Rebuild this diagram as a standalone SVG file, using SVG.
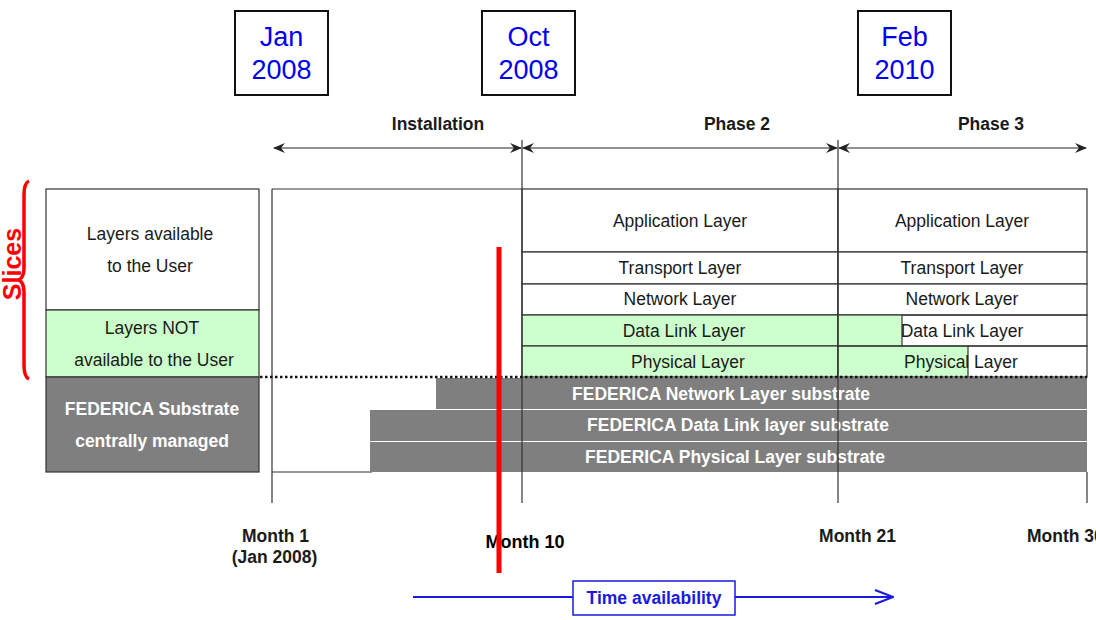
<svg xmlns="http://www.w3.org/2000/svg" width="1096" height="620" viewBox="0 0 1096 620">
<defs>
<style>
.t{font-family:"Liberation Sans",Arial,sans-serif;font-size:17.5px;fill:#1a1a1a;text-anchor:middle}
.b{font-family:"Liberation Sans",Arial,sans-serif;font-size:17.5px;font-weight:bold;fill:#1a1a1a;text-anchor:middle}
.w{font-family:"Liberation Sans",Arial,sans-serif;font-size:17.5px;font-weight:bold;fill:#fff;text-anchor:middle}
.d{font-family:"Liberation Sans",Arial,sans-serif;font-size:27px;fill:#0000ee;text-anchor:middle}
.cell{stroke:#333;stroke-width:1.2}
.gray{fill:#7f7f7f}
.ln{stroke:#333;stroke-width:1.2;fill:none}
</style>
<marker id="ah" viewBox="0 0 12 10" refX="11" refY="5" markerWidth="12" markerHeight="10" markerUnits="userSpaceOnUse" orient="auto-start-reverse">
<path d="M0,0 L12,5 L0,10 L4,5 Z" fill="#222"/>
</marker>
<marker id="bh" viewBox="0 0 20 16" refX="19" refY="8" markerWidth="20" markerHeight="16" markerUnits="userSpaceOnUse" orient="auto">
<path d="M1,1 L19,8 L1,15" fill="none" stroke="#1a1adf" stroke-width="2"/>
</marker>
</defs>
<rect width="1096" height="620" fill="#fff"/>

<g id="date-jan2008">
<rect x="235" y="11" width="93" height="84" fill="#fff" stroke="#111" stroke-width="2"/>
<text class="d" x="281.5" y="46">Jan</text>
<text class="d" x="281.5" y="79">2008</text>
</g>
<g id="date-oct2008">
<rect x="482" y="11" width="93" height="84" fill="#fff" stroke="#111" stroke-width="2"/>
<text class="d" x="528.5" y="46">Oct</text>
<text class="d" x="528.5" y="79">2008</text>
</g>
<g id="date-feb2010">
<rect x="858" y="11" width="93" height="84" fill="#fff" stroke="#111" stroke-width="2"/>
<text class="d" x="904.5" y="46">Feb</text>
<text class="d" x="904.5" y="79">2010</text>
</g>

<g id="phase-labels">
<text class="b" x="438" y="130">Installation</text>
<text class="b" x="737" y="130">Phase 2</text>
<text class="b" x="991" y="130">Phase 3</text>
</g>

<g id="legend">
<rect x="46" y="189" width="213" height="121" fill="#fff" class="cell"/>
<rect x="46" y="310" width="213" height="67" fill="#ccffcc" class="cell"/>
<rect x="46" y="377" width="213" height="95" class="gray cell"/>
<text class="t" x="150" y="240">Layers available</text>
<text class="t" x="150" y="272">to the User</text>
<text class="t" x="152" y="334">Layers NOT</text>
<text class="t" x="154" y="366">available to the User</text>
<text class="w" x="152" y="415">FEDERICA Substrate</text>
<text class="w" x="152" y="447">centrally managed</text>
</g>

<g id="frame">
<line x1="272" y1="189" x2="522" y2="189" class="ln"/>
<line x1="272" y1="189" x2="272" y2="503" class="ln"/>
<line x1="272" y1="472" x2="372" y2="472" class="ln"/>
</g>

<g id="phase2-layers">
<rect x="522" y="189" width="316" height="63" fill="#fff" class="cell"/>
<rect x="522" y="252" width="316" height="32" fill="#fff" class="cell"/>
<rect x="522" y="284" width="316" height="31" fill="#fff" class="cell"/>
<rect x="522" y="315" width="316" height="31" fill="#ccffcc" class="cell"/>
<rect x="522" y="346" width="316" height="31" fill="#ccffcc" class="cell"/>
<text class="t" x="680" y="227">Application Layer</text>
<text class="t" x="680" y="274">Transport Layer</text>
<text class="t" x="680" y="305">Network Layer</text>
<text class="t" x="684" y="337">Data Link Layer</text>
<text class="t" x="688" y="368">Physical Layer</text>
</g>

<g id="phase3-layers">
<rect x="838" y="189" width="249" height="63" fill="#fff" class="cell"/>
<rect x="838" y="252" width="249" height="32" fill="#fff" class="cell"/>
<rect x="838" y="284" width="249" height="31" fill="#fff" class="cell"/>
<rect x="838" y="315" width="64" height="31" fill="#ccffcc"/>
<rect x="838" y="346" width="130" height="31" fill="#ccffcc"/>
<line x1="902" y1="315" x2="902" y2="346" class="ln"/>
<line x1="968" y1="346" x2="968" y2="377" class="ln"/>
<rect x="838" y="315" width="249" height="31" fill="none" class="cell"/>
<rect x="838" y="346" width="249" height="31" fill="none" class="cell"/>
<text class="t" x="962" y="227">Application Layer</text>
<text class="t" x="962" y="274">Transport Layer</text>
<text class="t" x="962" y="305">Network Layer</text>
<text class="t" x="962" y="337">Data Link Layer</text>
<text class="t" x="961" y="368">Physical Layer</text>
</g>

<g id="substrates">
<rect x="436" y="378" width="651" height="31" class="gray"/>
<rect x="370" y="410" width="717" height="31" class="gray"/>
<rect x="370" y="442" width="717" height="30" class="gray"/>
<text class="w" x="721" y="400">FEDERICA Network Layer  substrate</text>
<text class="w" x="738" y="431">FEDERICA Data Link layer substrate</text>
<text class="w" x="735" y="463">FEDERICA Physical Layer substrate</text>
</g>

<g id="connectors">
<line x1="522" y1="140" x2="522" y2="503" class="ln"/>
<line x1="838" y1="140" x2="838" y2="503" class="ln"/>
<line x1="1087" y1="472" x2="1087" y2="503" class="ln"/>
<line x1="260" y1="377" x2="1087" y2="377" stroke="#111" stroke-width="2.5" stroke-dasharray="2.5,2.5"/>
<line x1="274" y1="148" x2="521" y2="148" stroke="#222" stroke-width="1.2" marker-start="url(#ah)" marker-end="url(#ah)"/>
<line x1="523" y1="148" x2="837" y2="148" stroke="#222" stroke-width="1.2" marker-start="url(#ah)" marker-end="url(#ah)"/>
<line x1="839" y1="148" x2="1086" y2="148" stroke="#222" stroke-width="1.2" marker-start="url(#ah)" marker-end="url(#ah)"/>
<line x1="413" y1="597" x2="893" y2="597" stroke="#1a1adf" stroke-width="2" marker-end="url(#bh)"/>
</g>

<g id="month-labels">
<text class="b" x="275.5" y="542">Month 1</text>
<text class="b" x="274.5" y="563">(Jan 2008)</text>
<text class="b" x="857.5" y="542">Month 21</text>
<text class="b" x="1027" y="542" style="text-anchor:start">Month 30</text>
<text class="b" x="525" y="548" style="font-size:18px;fill:#000">Month 10</text>
</g>

<g id="time-availability">
<rect x="573" y="581" width="162" height="34" fill="#fff" stroke="#1a1adf" stroke-width="1.5"/>
<text class="b" x="654" y="604" style="fill:#1a1adf">Time availability</text>
</g>

<g id="now-marker">
<line x1="499" y1="247" x2="499" y2="573" stroke="#ff0000" stroke-width="5"/>
</g>

<g id="slices">
<path d="M29,181 Q24,183 24,195 L24,268 Q24,277 19,280 Q24,283 24,292 L24,365 Q24,377 29,379" fill="none" stroke="#ff0000" stroke-width="3.5"/>
<text x="12" y="264" transform="rotate(-90 12 264)" style="font-family:'Liberation Sans',Arial,sans-serif;font-size:25px;font-weight:bold;fill:#ff0000;text-anchor:middle;dominant-baseline:central">Slices</text>
</g>
</svg>
